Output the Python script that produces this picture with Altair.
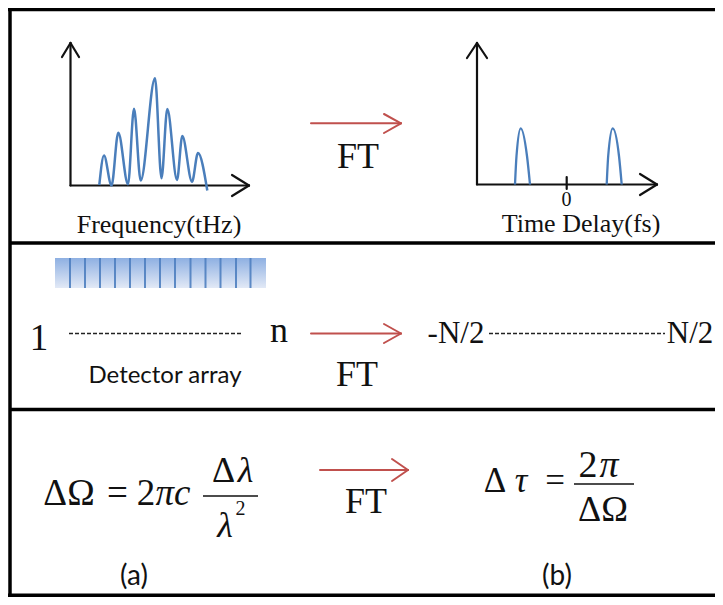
import altair as alt
import pandas as pd

# ---------------- content ----------------
# spectrum (panel 1, left): peaks and troughs
spec_x = [99.3, 104, 111.5, 118.3, 128, 134, 140.7, 155, 161.5, 167.3, 177, 182.3, 192, 198, 207.3]
spec_y = [185, 155.5, 185.5, 132.7, 184.3, 108.7, 180.5, 78.3, 178.3, 109, 180, 136, 181.7, 153, 190.5]

# two pulses (panel 1, right)
pulse1_x = [515, 516.5, 520.7, 527, 530]
pulse2_x = [606.7, 608.2, 612.7, 619, 621.7]
pulse_y = [184.5, 156, 128.3, 156, 184.5]

# detector array
detector_box = [55, 266, 258, 288]
detector_ticks = [70, 85, 100, 115, 130, 145, 160, 175, 190.5, 205.5, 220.5, 236, 250.5]

# black axis segments with arrow heads: x, y, x2, y2
axis_segments = [
    (70.5, 185.5, 70.5, 43), (62, 57, 70.5, 43), (79, 57, 70.5, 43),
    (70.5, 185.5, 249, 185.5), (232, 175, 249, 185.5), (232, 196, 249, 185.5),
    (477, 184.5, 477, 43), (467, 58, 477, 43), (487, 58, 477, 43),
    (477, 184.5, 657, 184.5), (640, 174, 657, 184.5), (640, 195, 657, 184.5),
    (566.7, 177, 566.7, 189),
]
# red FT arrows
ft_arrows = [
    (311, 123.3, 401, 123.3), (384, 114, 401, 123.3), (384, 133, 401, 123.3),
    (311, 333.5, 401, 333.5), (384, 324, 401, 333.5), (384, 343, 401, 333.5),
    (320, 470, 408, 470), (392, 459, 408, 470), (392, 481, 408, 470),
]
# frame and dividers
frame_segments = [
    (8, 9.5, 715, 9.5), (10, 8, 10, 597),
    (10, 243, 715, 243), (10, 409.5, 715, 409.5), (8, 595.3, 715, 595.3),
]
# dashed lines in panel 2
dashed_segments = [(69, 333.5, 241, 333.5), (489, 333.5, 665, 333.5)]
# fraction bars
fraction_bars = [(203, 496, 258, 496), (574, 484, 634, 484)]

# texts: text, centre x, baseline y, font size
serif_texts = [
    ("Frequency(tHz)", 159, 233, 26),
    ("Time Delay(fs)", 581, 232, 26),
    ("0", 566.5, 206, 20),
    ("FT", 358, 168, 36),
    ("1", 39, 350, 37),
    ("n", 279, 342, 36),
    ("FT", 357, 386, 36),
    ("-N/2", 456, 343, 31),
    ("N/2", 690, 343, 31),
    ("FT", 366, 513, 36),
    ("ΔΩ", 69, 505, 37),
    ("=", 117.5, 505, 37),
    ("2", 146, 505, 37),
    ("Δ", 223.5, 482, 36),
    ("2", 240.5, 515, 20),
    ("Δ", 495, 492, 35),
    ("=", 555, 492, 35),
    ("2", 588, 477, 38),
    ("ΔΩ", 603, 521, 36),
]
italic_texts = [
    ("πc", 173, 505, 37),
    ("λ", 245.5, 482, 36),
    ("λ", 225, 537, 36),
    ("τ", 521, 492, 35),
    ("π", 609, 477, 38),
]
sans_texts = [
    ("Detector array", 165, 383, 24),
    ("(a)", 134, 585, 28),
    ("(b)", 557, 585, 28),
]

# ---------------- chart ----------------
BLUE = "#4a7ebb"
RED = "#c0504d"
xs = alt.Scale(domain=[8, 715], nice=False, zero=False)
ys = alt.Scale(domain=[8, 597], nice=False, zero=False, reverse=True)
X = lambda f="x": alt.X(f + ":Q", scale=xs, axis=None)
Y = lambda f="y": alt.Y(f + ":Q", scale=ys, axis=None)


def seg_df(rows):
    return pd.DataFrame(rows, columns=["x", "y", "x2", "y2"])


def rules(rows, color, width, cap="round", dash=None):
    kw = dict(color=color, strokeWidth=width, strokeCap=cap)
    if dash:
        kw["strokeDash"] = dash
    return alt.Chart(seg_df(rows)).mark_rule(**kw).encode(
        x=X(), y=Y(), x2="x2:Q", y2="y2:Q"
    )


def texts(rows, font, style="normal"):
    df = pd.DataFrame(rows, columns=["t", "x", "y", "s"])
    return alt.Chart(df).mark_text(
        font=font, fontStyle=style, align="center", baseline="alphabetic", color="#111111"
    ).encode(x=X(), y=Y(), text="t:N", size=alt.Size("s:Q", scale=None))


spec_df = pd.DataFrame({"x": spec_x, "y": spec_y, "i": range(len(spec_x))})
pulse_df = pd.DataFrame({
    "x": pulse1_x + pulse2_x,
    "y": pulse_y + pulse_y,
    "p": ["a"] * len(pulse1_x) + ["b"] * len(pulse2_x),
    "i": list(range(len(pulse1_x))) + list(range(len(pulse2_x))),
})

spectrum = alt.Chart(spec_df).mark_line(
    color=BLUE, strokeWidth=2.5, interpolate="monotone"
).encode(x=X(), y=Y(), order="i:Q")

pulses = alt.Chart(pulse_df).mark_line(
    color=BLUE, strokeWidth=2.3, interpolate="monotone"
).encode(x=X(), y=Y(), detail="p:N", order="i:Q")

box_df = pd.DataFrame([detector_box], columns=["x", "x2", "y", "y2"])
det_box = alt.Chart(box_df).mark_rect(
    fill=alt.LinearGradient(
        gradient="linear",
        stops=[alt.GradientStop(offset=0, color="#8eb0e2"),
               alt.GradientStop(offset=1, color="#e2e9f6")],
        x1=0, x2=0, y1=0, y2=1,
    )
).encode(x=X(), x2="x2:Q", y=Y(), y2="y2:Q")

tick_df = pd.DataFrame({"x": detector_ticks, "y": detector_box[2], "y2": detector_box[3]})
det_ticks = alt.Chart(tick_df).mark_rule(color="#4f7fc0", strokeWidth=2, opacity=0.9).encode(
    x=X(), y=Y(), y2="y2:Q"
)

chart = alt.layer(
    det_box,
    det_ticks,
    rules(frame_segments, "#000000", 3.5, cap="butt"),
    rules(axis_segments, "#111111", 2.2),
    rules(ft_arrows, RED, 2),
    rules(dashed_segments, "#222222", 1.5, cap="butt", dash=[4, 2]),
    rules(fraction_bars, "#111111", 1.5, cap="butt"),
    spectrum,
    pulses,
    texts(serif_texts, "Liberation Serif"),
    texts(italic_texts, "Liberation Serif", "italic"),
    texts(sans_texts, "Lato"),
).properties(
    width=707, height=589,
    autosize=alt.AutoSizeParams(type="none"),
    padding=0,
    background="white",
).configure_view(strokeWidth=0)

chart.save("out.html", embed_options={"renderer": "svg", "actions": False})
